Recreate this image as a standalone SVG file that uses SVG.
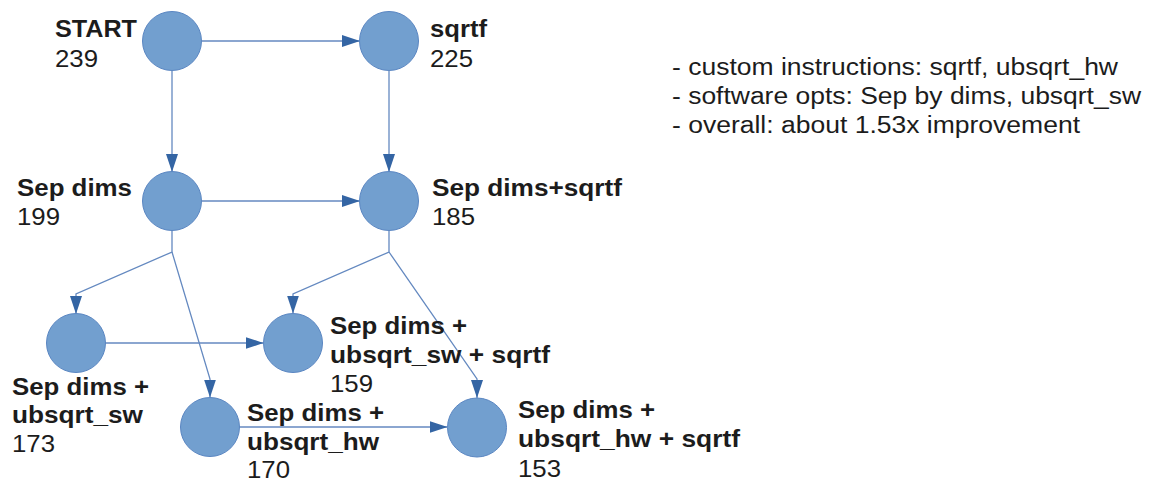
<svg xmlns="http://www.w3.org/2000/svg" width="1154" height="484" viewBox="0 0 1154 484">
  <style>
    .node circle { fill: #729fcf; stroke: #5a86c2; stroke-width: 1; }
    .name { font-family: "Liberation Sans", Arial, sans-serif; font-weight: bold; font-size: 24px; fill: #1c1c1c; }
    .val { font-family: "Liberation Sans", Arial, sans-serif; font-size: 24px; fill: #1c1c1c; }
    .note { font-family: "Liberation Sans", Arial, sans-serif; font-size: 23px; fill: #1c1c1c; }
    .edges path { fill: none; stroke: #6489c0; stroke-width: 1.3; marker-end: url(#arrow); }
  </style>
  <defs>
    <marker id="arrow" markerUnits="userSpaceOnUse" markerWidth="18" markerHeight="12" refX="18" refY="6" orient="auto">
      <path d="M0,0 L18,6 L0,12 Z" fill="#3465a4"/>
    </marker>
  </defs>
  <rect width="1154" height="484" fill="#ffffff"/>

  <g id="connectors" class="edges">
    <path d="M202,41 H360"/>
    <path d="M172,71 V172"/>
    <path d="M389,71 V172"/>
    <path d="M202,201 H360"/>
    <path d="M172,230 V252 L76,294 V314"/>
    <path d="M172,252 L210,379 V397.5"/>
    <path d="M389,230 V252 L293,294 V313.5"/>
    <path d="M389,252 L477,379 V398"/>
    <path d="M105.5,343 H263.5"/>
    <path d="M239.5,427 H447.5"/>
  </g>

  <g id="node-start" class="node">
    <circle cx="172" cy="41" r="29.5"/>
    <text class="name" x="55" y="37" textLength="82" lengthAdjust="spacingAndGlyphs">START</text>
    <text class="val" x="55" y="67" textLength="43" lengthAdjust="spacingAndGlyphs">239</text>
  </g>
  <g id="node-sqrtf" class="node">
    <circle cx="389" cy="41" r="29.5"/>
    <text class="name" x="430" y="37" textLength="57" lengthAdjust="spacingAndGlyphs">sqrtf</text>
    <text class="val" x="430" y="67" textLength="43" lengthAdjust="spacingAndGlyphs">225</text>
  </g>
  <g id="node-sepdims" class="node">
    <circle cx="172" cy="201" r="29.5"/>
    <text class="name" x="17" y="196" textLength="115" lengthAdjust="spacingAndGlyphs">Sep dims</text>
    <text class="val" x="17" y="225" textLength="43" lengthAdjust="spacingAndGlyphs">199</text>
  </g>
  <g id="node-sepdims-sqrtf" class="node">
    <circle cx="389" cy="201" r="29.5"/>
    <text class="name" x="432" y="196" textLength="190" lengthAdjust="spacingAndGlyphs">Sep dims+sqrtf</text>
    <text class="val" x="432" y="225" textLength="43" lengthAdjust="spacingAndGlyphs">185</text>
  </g>
  <g id="node-sepdims-sw" class="node">
    <circle cx="76" cy="343" r="29.5"/>
    <text class="name" x="12" y="395" textLength="137" lengthAdjust="spacingAndGlyphs">Sep dims +</text>
    <text class="name" x="12" y="423" textLength="131" lengthAdjust="spacingAndGlyphs">ubsqrt_sw</text>
    <text class="val" x="12" y="452" textLength="43" lengthAdjust="spacingAndGlyphs">173</text>
  </g>
  <g id="node-sepdims-sw-sqrtf" class="node">
    <circle cx="293" cy="343" r="29.5"/>
    <text class="name" x="330" y="334" textLength="137" lengthAdjust="spacingAndGlyphs">Sep dims +</text>
    <text class="name" x="330" y="363" textLength="220" lengthAdjust="spacingAndGlyphs">ubsqrt_sw + sqrtf</text>
    <text class="val" x="330" y="392" textLength="43" lengthAdjust="spacingAndGlyphs">159</text>
  </g>
  <g id="node-sepdims-hw" class="node">
    <circle cx="210" cy="427" r="29.5"/>
    <text class="name" x="247" y="421" textLength="137" lengthAdjust="spacingAndGlyphs">Sep dims +</text>
    <text class="name" x="247" y="450" textLength="132" lengthAdjust="spacingAndGlyphs">ubsqrt_hw</text>
    <text class="val" x="247" y="478" textLength="43" lengthAdjust="spacingAndGlyphs">170</text>
  </g>
  <g id="node-sepdims-hw-sqrtf" class="node">
    <circle cx="477" cy="427.5" r="29.5"/>
    <text class="name" x="518" y="418" textLength="137" lengthAdjust="spacingAndGlyphs">Sep dims +</text>
    <text class="name" x="518" y="447" textLength="222" lengthAdjust="spacingAndGlyphs">ubsqrt_hw + sqrtf</text>
    <text class="val" x="518" y="477" textLength="43" lengthAdjust="spacingAndGlyphs">153</text>
  </g>

  <g id="notes">
    <text class="note" x="672" y="75" textLength="446" lengthAdjust="spacingAndGlyphs">- custom instructions: sqrtf, ubsqrt_hw</text>
    <text class="note" x="672" y="104" textLength="469" lengthAdjust="spacingAndGlyphs">- software opts: Sep by dims, ubsqrt_sw</text>
    <text class="note" x="672" y="133" textLength="408" lengthAdjust="spacingAndGlyphs">- overall: about 1.53x improvement</text>
  </g>
</svg>
